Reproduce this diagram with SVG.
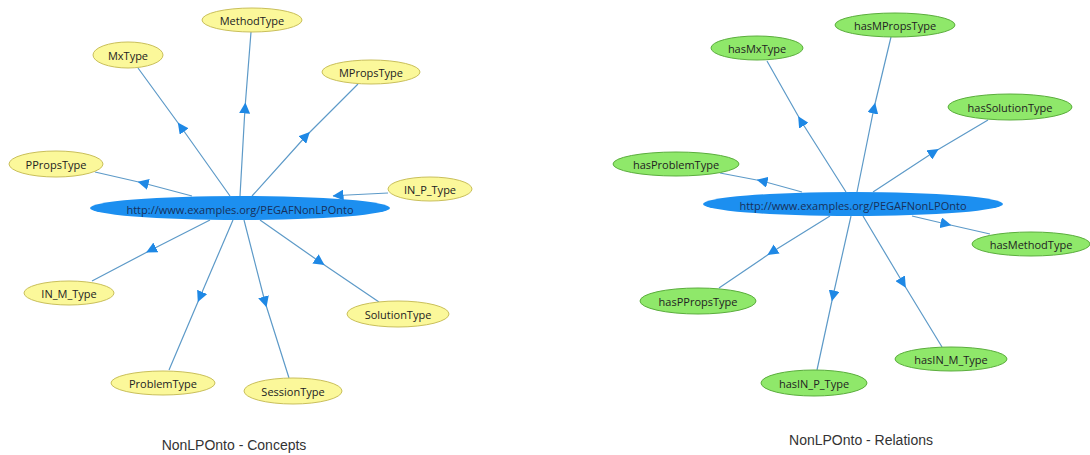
<svg xmlns="http://www.w3.org/2000/svg" width="1090" height="455" viewBox="0 0 1090 455">
<style>
.c{fill:#1c8ff0;stroke:none}
.y{fill:#fbf89a;stroke:#c9bf5a;stroke-width:1}
.g{fill:#8fe86a;stroke:#5aad3c;stroke-width:1}
text{font-family:"Open Sans","Noto Sans",sans-serif;font-size:11px;fill:#222;text-anchor:middle;dominant-baseline:central}
.ct{fill:#17305a}
.cap{font-family:"Liberation Sans",Arial,sans-serif;font-size:14px;fill:#333}
.e{fill:none;stroke:#5d9ac8;stroke-width:1.2;marker-mid:url(#a)}
</style>
<defs>
<marker id="a" viewBox="0 0 10 10" refX="5" refY="5" markerWidth="11" markerHeight="11" markerUnits="userSpaceOnUse" orient="auto">
<path d="M0,0 L10,5 L0,10 Z" fill="#1e88e5"/>
</marker>
</defs>
<g id="connectors">
<polyline class="e" points="230,196 181,127 138,68"/>
<polyline class="e" points="240,196 245,108 251,32"/>
<polyline class="e" points="252,196 306,136 358,84"/>
<polyline class="e" points="192,196 143,183 95,172"/>
<polyline class="e" points="388,193 338,195.5 333,196"/>
<polyline class="e" points="210,220 151,250 92,281"/>
<polyline class="e" points="233,220 200,297 169,370"/>
<polyline class="e" points="244,220 265,302 289,378"/>
<polyline class="e" points="260,220 320,262 379,302"/>
<polyline class="e" points="846,192 801,121 767,61"/>
<polyline class="e" points="857,192 874,108 891,37"/>
<polyline class="e" points="873,192 934,152 988,120"/>
<polyline class="e" points="802,192 762,181 720,173"/>
<polyline class="e" points="912,216 946,224 990,234"/>
<polyline class="e" points="830,216 772,252 719,288"/>
<polyline class="e" points="851,216 833,296 817,370"/>
<polyline class="e" points="863,216 903,283 942,347"/>
</g>
<g id="center-concepts"><ellipse class="c" cx="240" cy="208" rx="150" ry="12"/><text class="ct" x="240" y="209">http://www.examples.org/PEGAFNonLPOnto</text></g>
<g id="MethodType"><ellipse class="y" cx="252" cy="20" rx="50" ry="12"/><text x="252" y="20">MethodType</text></g>
<g id="MxType"><ellipse class="y" cx="128" cy="55" rx="35" ry="13"/><text x="128" y="55">MxType</text></g>
<g id="MPropsType"><ellipse class="y" cx="371" cy="72" rx="49" ry="12"/><text x="371" y="72">MPropsType</text></g>
<g id="PPropsType"><ellipse class="y" cx="56" cy="164" rx="47" ry="13"/><text x="56" y="164">PPropsType</text></g>
<g id="IN_P_Type"><ellipse class="y" cx="430" cy="189" rx="42" ry="12"/><text x="430" y="189">IN_P_Type</text></g>
<g id="IN_M_Type"><ellipse class="y" cx="69" cy="293" rx="45" ry="12"/><text x="69" y="293">IN_M_Type</text></g>
<g id="ProblemType"><ellipse class="y" cx="163" cy="383" rx="52" ry="12"/><text x="163" y="383">ProblemType</text></g>
<g id="SessionType"><ellipse class="y" cx="293" cy="391" rx="49" ry="13"/><text x="293" y="391">SessionType</text></g>
<g id="SolutionType"><ellipse class="y" cx="398" cy="314" rx="51" ry="13"/><text x="398" y="314">SolutionType</text></g>
<g id="center-relations"><ellipse class="c" cx="853" cy="204" rx="150" ry="12"/><text class="ct" x="853" y="205">http://www.examples.org/PEGAFNonLPOnto</text></g>
<g id="hasMxType"><ellipse class="g" cx="757" cy="48" rx="46" ry="12"/><text x="757" y="48">hasMxType</text></g>
<g id="hasMPropsType"><ellipse class="g" cx="895" cy="25" rx="60" ry="12"/><text x="895" y="25">hasMPropsType</text></g>
<g id="hasSolutionType"><ellipse class="g" cx="1010" cy="107" rx="62" ry="13"/><text x="1010" y="107">hasSolutionType</text></g>
<g id="hasProblemType"><ellipse class="g" cx="676" cy="164" rx="63" ry="12"/><text x="676" y="164">hasProblemType</text></g>
<g id="hasMethodType"><ellipse class="g" cx="1031" cy="244" rx="59" ry="12"/><text x="1031" y="244">hasMethodType</text></g>
<g id="hasPPropsType"><ellipse class="g" cx="698" cy="301" rx="58" ry="13"/><text x="698" y="301">hasPPropsType</text></g>
<g id="hasIN_P_Type"><ellipse class="g" cx="814" cy="383" rx="53" ry="13"/><text x="814" y="383">hasIN_P_Type</text></g>
<g id="hasIN_M_Type"><ellipse class="g" cx="951" cy="359" rx="56" ry="12"/><text x="951" y="359">hasIN_M_Type</text></g>
<text class="cap" x="234" y="445">NonLPOnto - Concepts</text>
<text class="cap" x="861" y="440">NonLPOnto - Relations</text>
</svg>
